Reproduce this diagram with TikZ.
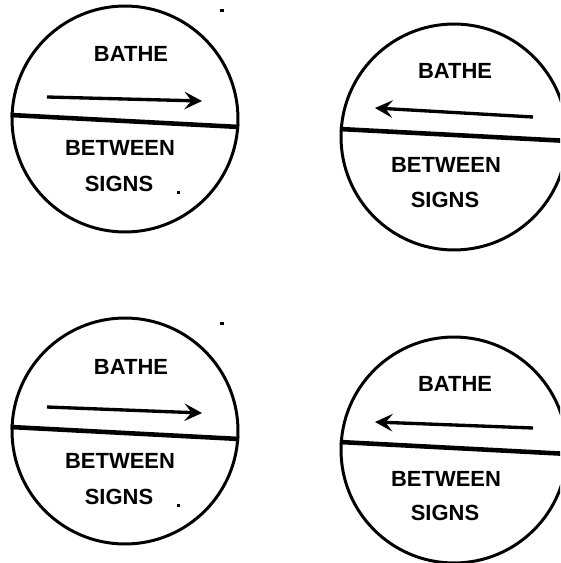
\documentclass[tikz,border=0pt]{standalone}
\usepackage{fontspec}
\setmainfont{Liberation Sans}
\usetikzlibrary{arrows.meta}

\begin{document}
\begin{tikzpicture}[
  x=0.02cm, y=-0.02cm,
  disc/.style={circle, draw, line width=1.7pt, minimum size=4.52cm, inner sep=0pt},
  word/.style={font=\fontsize{12.5}{15}\selectfont\bfseries, inner sep=0pt},
  divider/.style={line width=2.6pt},
  arrow/.style={-{Stealth[length=10pt, width=10pt, inset=4pt]}, line width=1.9pt},
  speck/.style={fill=black}
]
\fill[white] (0,0) rectangle (560,563);
\clip (0,0) rectangle (560,563);

% top left, arrow to the right
\node[disc] (d1) at (125,119) {};
\draw[divider] (d1.178) -- (d1.-4);
\coordinate (a1s) at (47,97);
\coordinate (a1e) at (202,101);
\draw[arrow] (a1s) -- (a1e);
\node[word] (t1) at (131,54)  {BATHE};
\node[word] (b1) at (120,148) {BETWEEN};
\node[word] (s1) at (119,184) {SIGNS};
\fill[speck] (177,191) rectangle (180,194);
\fill[speck] (220,9) rectangle (224,12);

% top right, arrow to the left
\node[disc] (d2) at (454,137) {};
\draw[divider] (d2.176) -- (d2.-2);
\coordinate (a2s) at (533,117);
\coordinate (a2e) at (375,108);
\draw[arrow] (a2s) -- (a2e);
\node[word] (t2) at (455,71)  {BATHE};
\node[word] (b2) at (446,165) {BETWEEN};
\node[word] (s2) at (445,200) {SIGNS};

% bottom left, arrow to the right
\node[disc] (d3) at (125,431) {};
\draw[divider] (d3.178) -- (d3.-4);
\coordinate (a3s) at (47,407);
\coordinate (a3e) at (202,413);
\draw[arrow] (a3s) -- (a3e);
\node[word] (t3) at (131,367) {BATHE};
\node[word] (b3) at (120,461) {BETWEEN};
\node[word] (s3) at (119,497) {SIGNS};
\fill[speck] (177,504) rectangle (180,507);
\fill[speck] (220,322) rectangle (224,325);

% bottom right, arrow to the left
\node[disc] (d4) at (454,450) {};
\draw[divider] (d4.176) -- (d4.-2);
\coordinate (a4s) at (533,428);
\coordinate (a4e) at (375,422);
\draw[arrow] (a4s) -- (a4e);
\node[word] (t4) at (455,384) {BATHE};
\node[word] (b4) at (446,479) {BETWEEN};
\node[word] (s4) at (445,513) {SIGNS};
\end{tikzpicture}
\end{document}
